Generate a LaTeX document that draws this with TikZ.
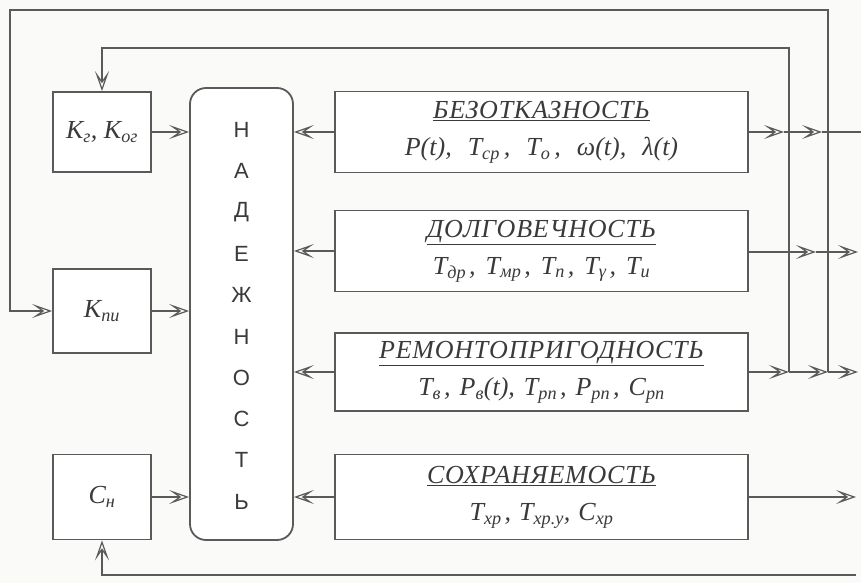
\documentclass[tikz,border=0pt]{standalone}
\usepackage{fontspec}
\setmainfont{Liberation Serif}
\newfontfamily\nadfont{Liberation Sans}
\usetikzlibrary{arrows.meta,positioning}
\definecolor{ln}{HTML}{5A5A5A}
\definecolor{tx}{HTML}{3A3A3A}
\definecolor{bg}{HTML}{FAFAF8}
\tikzset{
  box/.style={draw=ln, line width=1.8pt, fill=white, inner sep=0pt, text=tx, align=center},
  lbox/.style={box, minimum width=98pt, minimum height=80pt, font=\fontsize{26}{30}\selectfont\itshape},
  rbox/.style={box, minimum width=413pt, minimum height=81pt, font=\fontsize{26}{37}\selectfont\itshape},
  con/.style={draw=ln, line width=1.1pt},
  arr/.style={con, -{Stealth[open, length=20pt, width=14pt, inset=10pt, line width=1.2pt]}},
}
\newcommand{\sbs}[1]{\textsubscript{#1}}
\newcommand{\ttl}[1]{\underline{\addfontfeatures{LetterSpace=3}#1}}
\begin{document}
\begin{tikzpicture}[x=1pt,y=-1pt]
\fill[bg] (0,0) rectangle (861,583);
\useasboundingbox (0,0) rectangle (861,583);
% left boxes
\node[lbox, minimum height=80pt] (k1) at (102,132) {K\sbs{г}, K\sbs{ог}};
\node[lbox, minimum height=84pt] (k2) at (102,311) {K\sbs{пи}};
\node[lbox, minimum height=85pt] (k3) at (102,497) {C\sbs{н}};
% central box
\node[box, rounded corners=16pt, minimum width=103pt, minimum height=452pt] (nad) at (241.5,314) {};
\foreach \l [count=\i] in {Н,А,Д,Е,Ж,Н,О,С,Т,Ь}
  \node[text=tx, font=\nadfont\fontsize{22}{22}\selectfont] (l\i) at (241.5,{130+(\i-1)*41.3}) {\l};
% right boxes
\node[rbox] (b1) at (541.5,132) {\ttl{БЕЗОТКАЗНОСТЬ}\\P(t),\hspace{16pt}T\sbs{ср}\hspace{4pt},\hspace{16pt}T\sbs{о}\hspace{4pt},\hspace{16pt}ω(t),\hspace{16pt}λ(t)};
\node[rbox] (b2) at (541.5,251) {\ttl{ДОЛГОВЕЧНОСТЬ}\\T\sbs{др}\hspace{3pt},\hspace{10pt}T\sbs{мр}\hspace{3pt},\hspace{10pt}T\sbs{п}\hspace{3pt},\hspace{10pt}T\sbs{γ}\hspace{3pt},\hspace{10pt}T\sbs{и}};
\node[rbox, minimum height=78pt] (b3) at (541.5,372) {\ttl{РЕМОНТОПРИГОДНОСТЬ}\\T\sbs{в}\hspace{3pt},\hspace{9pt}P\sbs{в}(t),\hspace{9pt}T\sbs{рп}\hspace{3pt},\hspace{9pt}P\sbs{рп}\hspace{3pt},\hspace{9pt}C\sbs{рп}};
\node[rbox, minimum height=85pt] (b4) at (541.5,497) {\ttl{СОХРАНЯЕМОСТЬ}\\T\sbs{хр}\hspace{3pt},\hspace{8pt}T\sbs{хр.у},\hspace{8pt}C\sbs{хр}};
% left inputs
\draw[arr] (k1.east) -- (nad.west |- k1.east);
\draw[arr] (k2.east) -- (nad.west |- k2.east);
\draw[arr] (k3.east) -- (nad.west |- k3.east);
% right to central
\foreach \b in {b1,b2,b3,b4}
  \draw[arr] (\b.west) -- (nad.east |- \b.west);
% junction coordinates
\coordinate (j1) at (789,372);
\coordinate (j2) at (828,372);
\coordinate (t1) at (789,48);
\coordinate (t2) at (828,10);
\coordinate (c1) at (102,48);
\coordinate (c2) at (10,10);
\coordinate (c3) at (10,311);
\coordinate (e1) at (861,132);
\coordinate (e2) at (858,252);
\coordinate (e3) at (858,372);
\coordinate (e4) at (856,497);
\coordinate (bl) at (102,575);
\coordinate (br) at (856,575);
% box1 outputs
\draw[arr] (b1.east |- 0,132) -- (784,132);
\draw[arr] (784,132) -- (822,132);
\draw[con] (822,132) -- (e1);
% box2 outputs
\draw[arr] (b2.east |- 0,252) -- (816,252);
\draw[arr] (816,252) -- (e2);
% box3 outputs with feedback loops
\draw[arr] (b3.east |- j1) -- (j1);
\draw[arr] (j1) -- (j2);
\draw[arr] (j2) -- (e3);
\draw[arr] (j1) -- (t1) -- (c1) -- (k1.north);
\draw[arr] (j2) -- (t2) -- (c2) -- (c3) -- (k2.west);
% box4 output
\draw[arr] (b4.east |- e4) -- (e4);
% bottom loop
\draw[arr] (br) -- (bl) -- (k3.south);
\end{tikzpicture}
\end{document}
